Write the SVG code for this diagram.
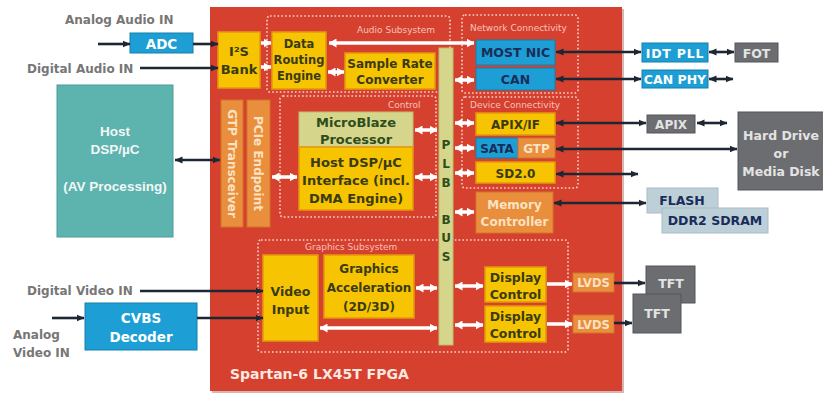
<svg xmlns="http://www.w3.org/2000/svg" width="823" height="396" viewBox="0 0 823 396">
<style>
.t{font-family:"DejaVu Sans",sans-serif;font-weight:bold;text-anchor:middle}
.lbl{font-family:"DejaVu Sans",sans-serif;font-weight:bold;fill:#767676;font-size:12px}
.sub{font-family:"DejaVu Sans",sans-serif;font-size:9px;fill:#f6c2b8}
.dot{fill:none;stroke:#f7d3cb;stroke-width:1.6;stroke-dasharray:1.6 2.2}
.y{fill:#f6c400;stroke:#e3980e;stroke-width:1.5}
.b{fill:#1d9fd6;stroke:#167eab;stroke-width:1}
.o{fill:#e98e3c;stroke:#d27428;stroke-width:1}
.g{fill:#6c6d71;stroke:#55565a;stroke-width:1}
.lb{fill:#bdd0d8;stroke:#a9bcc6;stroke-width:1}
.ol{fill:#d5d68c;stroke:#bdbe6c;stroke-width:1}
.dk{fill:#3a3b12}
.nv{fill:#1a2c58}
.wt{fill:#ffffff}
.pc{fill:#fbe2c2}
.lg{fill:#e3e3e3}
.gr{fill:#2e4d1c}
.da{stroke:#1c2733;stroke-width:2.6;fill:none}
.wa{stroke:#ffffff;stroke-width:3.5;fill:none}
</style>
<defs>
<marker id="ah" viewBox="0 0 8 8" refX="7.5" refY="4" markerWidth="8" markerHeight="8" markerUnits="userSpaceOnUse" orient="auto-start-reverse"><path d="M0,0.5 L8,4 L0,7.5 z" fill="#1c2733"/></marker>
<marker id="wh" viewBox="0 0 8 9" refX="7.5" refY="4.5" markerWidth="8" markerHeight="9" markerUnits="userSpaceOnUse" orient="auto-start-reverse"><path d="M0,0 L8,4.5 L0,9 z" fill="#ffffff"/></marker>
</defs>
<rect width="823" height="396" fill="#ffffff"/>

<!-- FPGA -->
<g id="fpga">
<rect x="212" y="9" width="412" height="384" fill="#8a2a22" opacity="0.35"/>
<rect x="210" y="7" width="412" height="384" fill="#d6402f"/>
<text x="230" y="379" class="t" style="text-anchor:start;font-size:14px;fill:#fde8e0">Spartan-6 LX45T FPGA</text>
</g>

<g id="audio-subsystem">
<rect x="267" y="16" width="183" height="76" rx="3" class="dot"/>
<text x="357" y="33" class="sub">Audio Subsystem</text>
</g>
<g id="network-connectivity">
<rect x="462" y="15" width="116" height="78" rx="3" class="dot"/>
<text x="470" y="31" class="sub">Network Connectivity</text>
</g>
<g id="device-connectivity">
<rect x="462" y="97" width="116" height="91" rx="3" class="dot"/>
<text x="470" y="108" class="sub">Device Connectivity</text>
</g>
<g id="control">
<rect x="280" y="96" width="156" height="121" rx="3" class="dot"/>
<text x="388" y="108" class="sub">Control</text>
</g>
<g id="graphics-subsystem">
<rect x="258" y="240" width="310" height="112" rx="3" class="dot"/>
<text x="305" y="250" class="sub">Graphics Subsystem</text>
</g>

<g id="plb-bus">
<rect x="439" y="48" width="14" height="297" class="ol"/>
<g class="t gr" style="font-size:12px">
<text x="446" y="149">P</text><text x="446" y="168">L</text><text x="446" y="187">B</text>
<text x="446" y="224">B</text><text x="446" y="242">U</text><text x="446" y="261">S</text>
</g>
</g>

<g id="i2s-bank"><rect x="218" y="32" width="42" height="56" class="y"/>
<text x="239" y="56" class="t dk" style="font-size:13px">I²S</text><text x="239" y="74" class="t dk" style="font-size:13px">Bank</text></g>

<g id="data-routing-engine"><rect x="272" y="32" width="54" height="57" class="y"/>
<g class="t dk" style="font-size:11.5px"><text x="299" y="48">Data</text><text x="299" y="64">Routing</text><text x="299" y="80">Engine</text></g></g>

<g id="sample-rate-converter"><rect x="345" y="53" width="90" height="36" class="y"/>
<g class="t dk" style="font-size:12px"><text x="390" y="68">Sample Rate</text><text x="390" y="84">Converter</text></g></g>

<g id="most-nic"><rect x="476" y="40" width="79" height="25" class="b"/>
<text x="515.5" y="57" class="t nv" style="font-size:12.5px">MOST NIC</text></g>
<g id="can"><rect x="476" y="68" width="79" height="22" class="b"/>
<text x="515.5" y="84" class="t nv" style="font-size:12.5px">CAN</text></g>

<g id="apix-if"><rect x="476" y="113" width="79" height="22" class="y"/>
<text x="515.5" y="129" class="t dk" style="font-size:12px">APIX/IF</text></g>
<g id="sata-gtp"><rect x="476" y="138" width="42" height="20" class="b"/><rect x="518" y="138" width="37" height="20" class="o"/>
<text x="497" y="153" class="t nv" style="font-size:12px">SATA</text><text x="536.5" y="153" class="t pc" style="font-size:12px">GTP</text></g>
<g id="sd20"><rect x="476" y="162" width="79" height="21" class="y"/>
<text x="515.5" y="177.5" class="t dk" style="font-size:12px">SD2.0</text></g>
<g id="memory-controller"><rect x="476" y="192" width="77" height="41" class="o"/>
<g class="t pc" style="font-size:12px"><text x="514.5" y="209">Memory</text><text x="514.5" y="226">Controller</text></g></g>

<g id="gtp-transceiver"><rect x="221" y="100" width="22" height="127" class="o"/>
<text transform="translate(232,163.5) rotate(90)" y="4.3" class="t pc" style="font-size:12px">GTP Transceiver</text></g>
<g id="pcie-endpoint"><rect x="247" y="100" width="23" height="127" class="o"/>
<text transform="translate(258.5,163.5) rotate(90)" y="4.3" class="t pc" style="font-size:12px">PCIe Endpoint</text></g>

<g id="microblaze"><rect x="299" y="112" width="114" height="35" class="ol"/>
<g class="t gr" style="font-size:13px"><text x="356" y="127">MicroBlaze</text><text x="356" y="144">Processor</text></g></g>
<g id="host-interface"><rect x="299" y="147" width="114" height="63" class="y"/>
<g class="t dk" style="font-size:13px"><text x="356" y="167">Host DSP/µC</text><text x="356" y="185">Interface (incl.</text><text x="356" y="203">DMA Engine)</text></g></g>

<g id="video-input"><rect x="263" y="255" width="55" height="86" class="y"/>
<g class="t dk" style="font-size:12.5px"><text x="290.5" y="296">Video</text><text x="290.5" y="314">Input</text></g></g>
<g id="graphics-acceleration"><rect x="324" y="255" width="90" height="63" class="y"/>
<g class="t dk" style="font-size:12px"><text x="369" y="273">Graphics</text><text x="369" y="292">Acceleration</text><text x="369" y="311">(2D/3D)</text></g></g>
<g id="display-control-1"><rect x="485" y="267" width="61" height="35" class="y"/>
<g class="t dk" style="font-size:12.5px"><text x="515.5" y="282">Display</text><text x="515.5" y="299">Control</text></g></g>
<g id="display-control-2"><rect x="485" y="306" width="61" height="36" class="y"/>
<g class="t dk" style="font-size:12.5px"><text x="515.5" y="321">Display</text><text x="515.5" y="338">Control</text></g></g>
<g id="lvds-1"><rect x="573" y="273" width="41" height="19" class="o"/>
<text x="593.5" y="287" class="t pc" style="font-size:11.5px">LVDS</text></g>
<g id="lvds-2"><rect x="573" y="315" width="41" height="18" class="o"/>
<text x="593.5" y="328.5" class="t pc" style="font-size:11.5px">LVDS</text></g>

<!-- external nodes -->
<g id="analog-audio-in"><text x="65" y="24" class="lbl">Analog Audio IN</text></g>
<g id="digital-audio-in"><text x="27" y="73" class="lbl">Digital Audio IN</text></g>
<g id="adc"><rect x="130" y="33" width="63" height="20" class="b"/>
<text x="161.5" y="48.5" class="t wt" style="font-size:13.5px">ADC</text></g>
<g id="host-dsp"><rect x="57" y="85" width="116" height="152" fill="#5db3ae" stroke="#4c9c98" stroke-width="1"/>
<g style="font-family:'Liberation Sans',Arial,sans-serif;font-weight:bold;font-size:13.5px;fill:#f2f7f7;text-anchor:middle">
<text x="115" y="136">Host</text><text x="115" y="154">DSP/µC</text><text x="115" y="191">(AV Processing)</text></g></g>
<g id="digital-video-in"><text x="27" y="295" class="lbl">Digital Video IN</text></g>
<g id="analog-video-in"><text x="13" y="339" class="lbl">Analog</text><text x="13" y="357" class="lbl">Video IN</text></g>
<g id="cvbs-decoder"><rect x="85" y="303" width="112" height="47" class="b"/>
<g class="t wt" style="font-size:13.5px"><text x="141" y="323">CVBS</text><text x="141" y="342">Decoder</text></g></g>

<g id="idt-pll"><rect x="642" y="43" width="66" height="19" class="b"/>
<text x="675" y="57.5" class="t wt" style="font-size:12.5px;letter-spacing:0.8px">IDT PLL</text></g>
<g id="fot"><rect x="735" y="43" width="43" height="19" class="g"/>
<text x="756.5" y="57.5" class="t lg" style="font-size:12.5px">FOT</text></g>
<g id="can-phy"><rect x="642" y="70" width="66" height="18" class="b"/>
<text x="675" y="84" class="t wt" style="font-size:12.5px">CAN PHY</text></g>
<g id="apix"><rect x="647" y="115" width="48" height="18" class="g"/>
<text x="671" y="129" class="t lg" style="font-size:12px">APIX</text></g>
<g id="hard-drive"><rect x="738" y="112" width="90" height="78" class="g"/>
<g class="t lg" style="font-size:12.5px"><text x="781" y="140">Hard Drive</text><text x="781" y="158">or</text><text x="781" y="176">Media Disk</text></g></g>
<g id="flash"><rect x="647" y="188" width="71" height="25" class="lb"/>
<text x="682" y="205" class="t nv" style="font-size:12.5px">FLASH</text></g>
<g id="ddr2-sdram"><rect x="662" y="208" width="106" height="25" class="lb"/>
<text x="715" y="225" class="t nv" style="font-size:12.5px">DDR2 SDRAM</text></g>
<g id="tft-1"><rect x="646" y="266" width="49" height="37" class="g"/>
<text x="671" y="288" class="t lg" style="font-size:12.5px">TFT</text></g>
<g id="tft-2"><rect x="633" y="294" width="48" height="39" class="g" stroke="#ffffff" stroke-width="1.2"/>
<text x="657" y="318" class="t lg" style="font-size:12.5px">TFT</text></g>

<!-- connectors -->
<g id="connectors">
<g class="wa">
<path d="M261,43 H271" marker-end="url(#wh)"/>
<path d="M261,67 H271" marker-end="url(#wh)"/>
<path d="M329,43 H474" marker-start="url(#wh)" marker-end="url(#wh)"/>
<path d="M328,72 H344" marker-start="url(#wh)" marker-end="url(#wh)"/>
<path d="M455,80 H474" marker-start="url(#wh)" marker-end="url(#wh)"/>
<path d="M455,123 H474" marker-start="url(#wh)" marker-end="url(#wh)"/>
<path d="M455,148 H474" marker-start="url(#wh)" marker-end="url(#wh)"/>
<path d="M455,173 H474" marker-start="url(#wh)" marker-end="url(#wh)"/>
<path d="M455,212 H474" marker-start="url(#wh)" marker-end="url(#wh)"/>
<path d="M415,130 H437" marker-start="url(#wh)" marker-end="url(#wh)"/>
<path d="M415,177 H437" marker-start="url(#wh)" marker-end="url(#wh)"/>
<path d="M272,177 H297" marker-start="url(#wh)" marker-end="url(#wh)"/>
<path d="M416,288 H437" marker-start="url(#wh)" marker-end="url(#wh)"/>
<path d="M320,328 H437" marker-start="url(#wh)" marker-end="url(#wh)"/>
<path d="M455,286 H483" marker-start="url(#wh)" marker-end="url(#wh)"/>
<path d="M455,325 H483" marker-start="url(#wh)" marker-end="url(#wh)"/>
<path d="M547,284 H572" marker-end="url(#wh)"/>
<path d="M547,324 H572" marker-end="url(#wh)"/>
</g>
<g class="da">
<path d="M98,44 H130" marker-end="url(#ah)"/>
<path d="M193,44 H218" marker-end="url(#ah)"/>
<path d="M140,68 H218" marker-end="url(#ah)"/>
<path d="M175,160 H220" marker-start="url(#ah)" marker-end="url(#ah)"/>
<path d="M556,52 H641" marker-start="url(#ah)" marker-end="url(#ah)"/>
<path d="M709,52 H734" marker-start="url(#ah)" marker-end="url(#ah)"/>
<path d="M556,79 H641" marker-start="url(#ah)" marker-end="url(#ah)"/>
<path d="M709,79 H733" marker-start="url(#ah)" marker-end="url(#ah)"/>
<path d="M556,123 H646" marker-start="url(#ah)" marker-end="url(#ah)"/>
<path d="M697,123 H727" marker-start="url(#ah)" marker-end="url(#ah)"/>
<path d="M556,149 H737" marker-start="url(#ah)" marker-end="url(#ah)"/>
<path d="M556,174 H638" marker-start="url(#ah)" marker-end="url(#ah)"/>
<path d="M554,203 H646" marker-start="url(#ah)" marker-end="url(#ah)"/>
<path d="M140,291 H263" marker-end="url(#ah)"/>
<path d="M52,318 H84" marker-end="url(#ah)"/>
<path d="M197,318 H263" marker-end="url(#ah)"/>
<path d="M614,283 H645" marker-end="url(#ah)"/>
<path d="M614,323 H632" marker-end="url(#ah)"/>
</g>
</g>
</svg>
